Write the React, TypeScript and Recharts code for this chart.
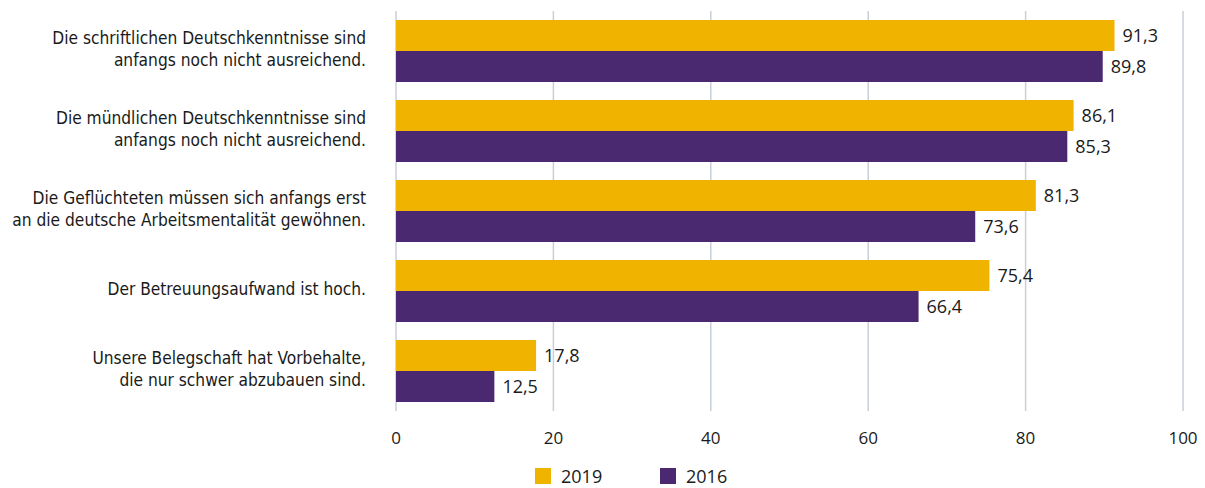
import React from "react";
import {
  BarChart,
  Bar,
  XAxis,
  YAxis,
  CartesianGrid,
  LabelList,
  Legend,
} from "recharts";

const categories = [
  "Die schriftlichen Deutschkenntnisse sind\nanfangs noch nicht ausreichend.",
  "Die mündlichen Deutschkenntnisse sind\nanfangs noch nicht ausreichend.",
  "Die Geflüchteten müssen sich anfangs erst\nan die deutsche Arbeitsmentalität gewöhnen.",
  "Der Betreuungsaufwand ist hoch.",
  "Unsere Belegschaft hat Vorbehalte,\ndie nur schwer abzubauen sind.",
];

const values2019 = [91.3, 86.1, 81.3, 75.4, 17.8];
const values2016 = [89.8, 85.3, 73.6, 66.4, 12.5];

const xTicks = [0, 20, 40, 60, 80, 100];

const seriesNames = ["2019", "2016"];
const COLORS = ["#f0b400", "#4b2971"];

const TEXT = "#1a1a1a";
const NUM_FONT = "'Open Sans', sans-serif";
const LABEL_FONT = "'DejaVu Sans Condensed', 'Open Sans', sans-serif";

const chartData = categories.map((label, i) => ({
  label,
  y2019: values2019[i],
  y2016: values2016[i],
}));

const formatDe = (v: number) => v.toFixed(1).replace(".", ",");

function CategoryTick({ x, y, payload }: any) {
  const lines = String(payload.value).split("\n");
  const lineH = 22;
  const startY = y - ((lines.length - 1) * lineH) / 2 - 2;
  return (
    <text
      x={x}
      y={startY}
      textAnchor="end"
      fill={TEXT}
      fontFamily={LABEL_FONT}
      fontSize={17.2}
    >
      {lines.map((line, i) => (
        <tspan key={i} x={x} y={startY + i * lineH} dy="0.35em">
          {line}
        </tspan>
      ))}
    </text>
  );
}

function LegendContent() {
  return (
    <div style={{ display: "flex", alignItems: "center" }}>
      {seriesNames.map((name, i) => (
        <div
          key={name}
          style={{ display: "flex", alignItems: "center", width: 125 }}
        >
          <span
            style={{
              display: "inline-block",
              width: 16,
              height: 16,
              background: COLORS[i],
              marginRight: 10,
            }}
          />
          <span
            style={{
              fontFamily: NUM_FONT,
              fontSize: 18,
              color: TEXT,
              lineHeight: "16px",
            }}
          >
            {name}
          </span>
        </div>
      ))}
    </div>
  );
}

export default function App() {
  return (
    <BarChart
      width={1190}
      height={480}
      data={chartData}
      layout="vertical"
      margin={{ top: 3, right: 15, bottom: 47, left: 0 }}
      barCategoryGap={9}
      barGap={0}
    >
      <CartesianGrid
        horizontal={false}
        vertical={true}
        stroke="#c9cfd9"
        strokeWidth={1.5}
      />
      <XAxis
        type="number"
        domain={[0, 100]}
        ticks={xTicks}
        axisLine={false}
        tickLine={false}
        tickSize={0}
        tickMargin={21}
        height={30}
        tick={{ fill: TEXT, fontFamily: NUM_FONT, fontSize: 17 }}
      />
      <YAxis
        type="category"
        dataKey="label"
        width={388}
        axisLine={false}
        tickLine={false}
        tickSize={0}
        tickMargin={30}
        tick={<CategoryTick />}
        interval={0}
      />
      <Legend
        layout="vertical"
        align="center"
        verticalAlign="middle"
        content={<LegendContent />}
        wrapperStyle={{ left: 527, top: 460, width: 260 }}
      />
      <Bar
        dataKey="y2019"
        name={seriesNames[0]}
        fill={COLORS[0]}
        isAnimationActive={false}
      >
        <LabelList
          dataKey="y2019"
          position="right"
          offset={8}
          formatter={(v: any) => formatDe(Number(v))}
          style={{ fill: TEXT, fontFamily: NUM_FONT, fontSize: 18 }}
        />
      </Bar>
      <Bar
        dataKey="y2016"
        name={seriesNames[1]}
        fill={COLORS[1]}
        isAnimationActive={false}
      >
        <LabelList
          dataKey="y2016"
          position="right"
          offset={8}
          formatter={(v: any) => formatDe(Number(v))}
          style={{ fill: TEXT, fontFamily: NUM_FONT, fontSize: 18 }}
        />
      </Bar>
    </BarChart>
  );
}
